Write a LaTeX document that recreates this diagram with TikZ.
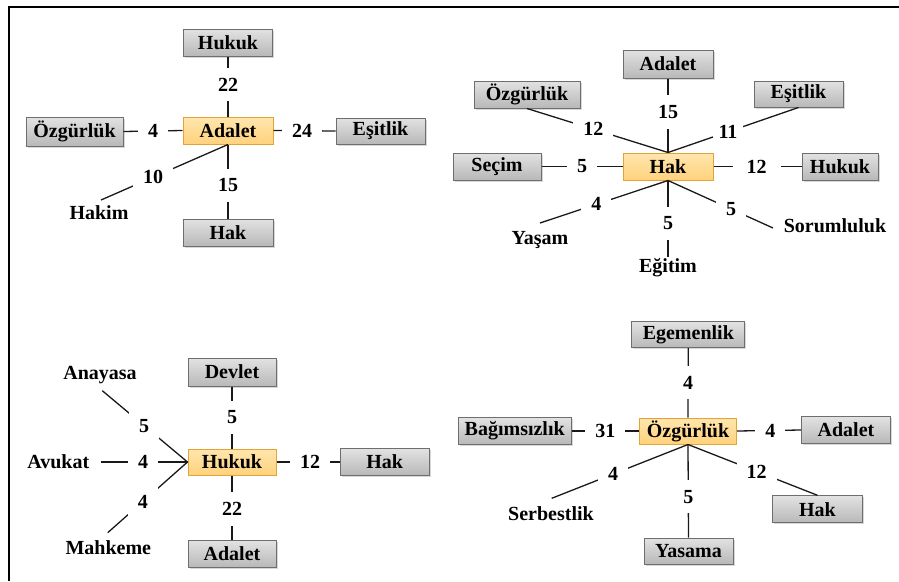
\documentclass[tikz,border=0pt]{standalone}
\usepackage{fontspec}
\newfontfamily\lsb{LiberationSerif-Bold.ttf}
\usetikzlibrary{shadows}
\definecolor{gtop}{HTML}{E2E2E2}
\definecolor{gbot}{HTML}{B8B8B8}
\definecolor{gline}{HTML}{6E6E6E}
\definecolor{otop}{HTML}{FFE6AE}
\definecolor{obot}{HTML}{FFD27C}
\definecolor{oline}{HTML}{E3A338}
\tikzset{
  base/.style={font=\lsb\fontsize{20}{22}\selectfont, text=black},
  gbox/.style={base, draw=gline, line width=1pt, top color=gtop, bottom color=gbot,
    inner sep=0pt, minimum height=27, drop shadow={shadow xshift=1.5pt, shadow yshift=-1.5pt, opacity=0.3}},
  obox/.style={base, draw=oline, line width=1pt, top color=otop, bottom color=obot,
    inner sep=0pt, minimum height=27},
  txt/.style={base, inner sep=0pt},
  lbl/.style={base, fill=white, inner xsep=10pt, inner ysep=10pt},
  conn/.style={draw=black!90, line width=1.3pt}
}
\begin{document}
\begin{tikzpicture}[x=1pt,y=-1pt]
\useasboundingbox (0,0) rectangle (899,581);
\fill[white] (0,0) rectangle (899,581);
% frame
\draw[line width=1.8pt] (8.8,581) -- (8.8,6.8) -- (899,6.8);

% ---------- Panel 1 : Adalet ----------
\node[gbox, minimum width=89] (h1) at (228,42.5) {Hukuk};
\node[obox, minimum width=90] (c1) at (228,130.5) {Adalet};
\node[gbox, minimum width=97, minimum height=29] (o1) at (74.5,131.5) {Özgürlük};
\node[gbox, minimum width=89, minimum height=26] (e1) at (380.5,131) {Eşitlik};
\node[gbox, minimum width=90] (k1) at (228,232.5) {Hak};
\node[txt] (hakim) at (99,213) {Hakim};
\coordinate (hakimE) at (101,200);

\draw[conn] (h1.south) -- node[lbl, pos=0.47]{22} (c1.north);
\draw[conn] (o1.east) -- node[lbl]{4} (c1.west);
\draw[conn] (c1.east) -- node[lbl, pos=0.46]{24} (e1.west);
\draw[conn] (c1.south) -- node[lbl, pos=0.55]{15} (k1.north);
\draw[conn] (c1.south) -- node[lbl, pos=0.59]{10} (hakimE);

% ---------- Panel 2 : Hak ----------
\node[gbox, minimum width=90, minimum height=28] (a2) at (668,64) {Adalet};
\node[obox, minimum width=90] (c2) at (668,166.5) {Hak};
\node[gbox, minimum width=106] (o2) at (527,94.5) {Özgürlük};
\node[gbox, minimum width=89, minimum height=26] (e2) at (798.5,94) {Eşitlik};
\node[gbox, minimum width=88] (s2) at (497,166.5) {Seçim};
\node[gbox, minimum width=76] (h2) at (840,166.5) {Hukuk};
\node[txt] (yasam) at (540,240) {Yaşam};
\node[txt] (egitim) at (668,268) {Eğitim};
\node[txt] (sorum) at (835,225.7) {Sorumluluk};
\coordinate (yasamE) at (540,223);
\coordinate (egitimE) at (668,257);
\coordinate (sorumE) at (773,228);

\draw[conn] (a2.south) -- node[lbl, pos=0.45]{15} (c2.north);
\draw[conn] (o2.south) -- node[lbl, pos=0.47]{12} (c2.north);
\draw[conn] (e2.south) -- node[lbl, pos=0.54, inner xsep=6pt]{11} (c2.north);
\draw[conn] (s2.east) -- node[lbl]{5} (c2.west);
\draw[conn] (c2.east) -- node[lbl, pos=0.49, inner xsep=14pt]{12} (h2.west);
\draw[conn] (c2.south) -- node[lbl, pos=0.56]{4} (yasamE);
\draw[conn] (c2.south) -- node[lbl, pos=0.56]{5} (egitimE);
\draw[conn] (c2.south) -- node[lbl, pos=0.6]{5} (sorumE);

% ---------- Panel 3 : Hukuk ----------
\node[gbox, minimum width=88, minimum height=28] (d3) at (232,372) {Devlet};
\node[obox, minimum width=88, minimum height=26] (c3) at (232,462) {Hukuk};
\node[gbox, minimum width=89] (k3) at (384.7,462) {Hak};
\node[gbox, minimum width=88] (a3) at (232,554) {Adalet};
\node[txt] (anayasa) at (100,375) {Anayasa};
\node[txt] (avukat) at (58.3,461.7) {Avukat};
\node[txt] (mahkeme) at (108.3,547.7) {Mahkeme};
\coordinate (anaE) at (102.3,390.7);
\coordinate (avuE) at (100.7,462);
\coordinate (mahE) at (107.7,532.7);

\draw[conn] (d3.south) -- node[lbl]{5} (c3.north);
\draw[conn] (c3.east) -- node[lbl, pos=0.53]{12} (k3.west);
\draw[conn] (c3.south) -- node[lbl, pos=0.52]{22} (a3.north);
\draw[conn] (c3.west) -- node[lbl, pos=0.51]{5} (anaE);
\draw[conn] (c3.west) -- node[lbl, pos=0.51]{4} (avuE);
\draw[conn] (c3.west) -- node[lbl, pos=0.56]{4} (mahE);

% ---------- Panel 4 : Özgürlük ----------
\node[gbox, minimum width=113, minimum height=26] (g4) at (688.3,334.7) {Egemenlik};
\node[obox, minimum width=97, minimum height=26] (c4) at (688,431) {Özgürlük};
\node[gbox, minimum width=113] (b4) at (514.7,431) {Bağımsızlık};
\node[gbox, minimum width=89] (a4) at (846,430) {Adalet};
\node[gbox, minimum width=89, minimum height=26] (y4) at (688.5,551) {Yasama};
\node[gbox, minimum width=90] (k4) at (817.5,509.3) {Hak};
\node[txt] (serb) at (551,513.3) {Serbestlik};
\coordinate (serE) at (551.7,498.3);

\draw[conn] (g4.south) -- node[lbl]{4} (c4.north);
\draw[conn] (b4.east) -- node[lbl]{31} (c4.west);
\draw[conn] (c4.east) -- node[lbl, pos=0.52]{4} (a4.west);
\draw[conn] (c4.south) -- node[lbl, pos=0.56]{5} (y4.north);
\draw[conn] (c4.south) -- node[lbl, pos=0.55]{4} (serE);
\draw[conn] (c4.south) -- node[lbl, pos=0.53]{12} (k4.north);
\end{tikzpicture}
\end{document}
